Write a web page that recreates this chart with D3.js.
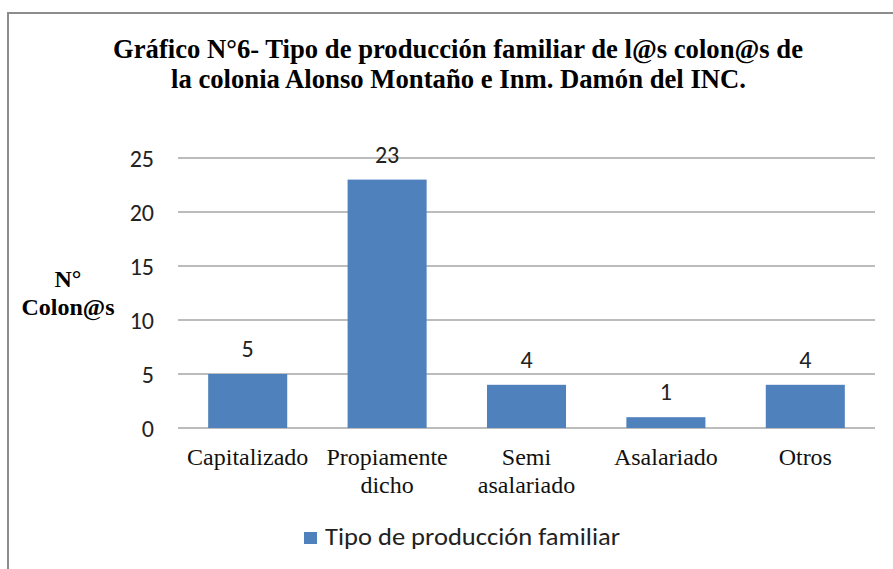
<!DOCTYPE html>
<html><head><meta charset="utf-8">
<script src="https://cdn.jsdelivr.net/npm/d3@7"></script>
<style>body{margin:0;background:#fff}svg{display:block}</style>
</head><body>
<script>
const categories = [["Capitalizado"],["Propiamente","dicho"],["Semi","asalariado"],["Asalariado"],["Otros"]];
const values = [5, 23, 4, 1, 4];
const yTicks = [0, 5, 10, 15, 20, 25];
const seriesName = "Tipo de producción familiar";
const titleLines = ["Gráfico N°6- Tipo de producción familiar de l@s colon@s de","la colonia Alonso Montaño e Inm. Damón del INC."];
const yLabel = ["N°","Colon@s"];

const W = 893, H = 569;
const svg = d3.select("body").append("svg").attr("width", W).attr("height", H);
svg.append("rect").attr("x", 8).attr("y", 13).attr("width", W).attr("height", H)
  .attr("fill", "#fff").attr("stroke", "#8c8c8c").attr("stroke-width", 2);

const x = d3.scaleBand().domain(d3.range(values.length)).range([178, 875]).paddingInner(0.433).paddingOuter(0.2165);
const y = d3.scaleLinear().domain([0, 25]).range([428, 158]);

const serif = "'Liberation Serif','Times New Roman',serif";
const sans = "Carlito,'Open Sans','Liberation Sans',sans-serif";

svg.selectAll(".title").data(titleLines).join("text")
  .attr("x", (d,i) => i === 0 ? 113 : 171).attr("y", (d,i) => i === 0 ? 58 : 88)
  .attr("font-family", serif).attr("font-weight", "bold").attr("font-size", 27)
  .attr("textLength", (d,i) => i === 0 ? 690 : 575).attr("lengthAdjust", "spacingAndGlyphs")
  .text(d => d);

svg.append("g").selectAll("line").data(yTicks).join("line")
  .attr("x1", 178).attr("x2", 875).attr("y1", d => y(d)).attr("y2", d => y(d))
  .attr("stroke", "#a6a6a6").attr("stroke-width", 1.5);

svg.append("g").selectAll("text").data(yTicks).join("text")
  .attr("x", 154).attr("y", d => y(d) + 8.5).attr("text-anchor", "end")
  .attr("font-family", sans).attr("font-size", 24).attr("fill", "#222").text(d => d);

svg.append("g").selectAll("text").data(yLabel).join("text")
  .attr("x", 68).attr("y", (d,i) => 287 + i*28).attr("text-anchor", "middle")
  .attr("font-family", serif).attr("font-weight", "bold").attr("font-size", 24).text(d => d);

svg.append("g").selectAll("rect").data(values).join("rect")
  .attr("x", (d,i) => x(i)).attr("width", x.bandwidth())
  .attr("y", d => y(d)).attr("height", d => y(0) - y(d)).attr("fill", "#4F81BD");

svg.append("g").selectAll("text").data(values).join("text")
  .attr("x", (d,i) => x(i) + x.bandwidth()/2).attr("y", d => y(d) - 17).attr("text-anchor", "middle")
  .attr("font-family", sans).attr("font-size", 24).attr("fill", "#222").text(d => d);

const xl = svg.append("g").selectAll("g").data(categories).join("g");
xl.selectAll("text").data((d,i) => d.map(t => ({t, i}))).join("text")
  .attr("x", d => x(d.i) + x.bandwidth()/2).attr("y", (d,j) => 465 + j*28).attr("text-anchor", "middle")
  .attr("font-family", serif).attr("font-size", 24).attr("fill", "#111").text(d => d.t);

svg.append("rect").attr("x", 304).attr("y", 532).attr("width", 13).attr("height", 12).attr("fill", "#4F81BD");
svg.append("text").attr("x", 325).attr("y", 545).attr("font-family", sans).attr("font-size", 25)
  .attr("textLength", 295).attr("lengthAdjust", "spacingAndGlyphs")
  .attr("fill", "#222").text(seriesName);
</script>
</body></html>
